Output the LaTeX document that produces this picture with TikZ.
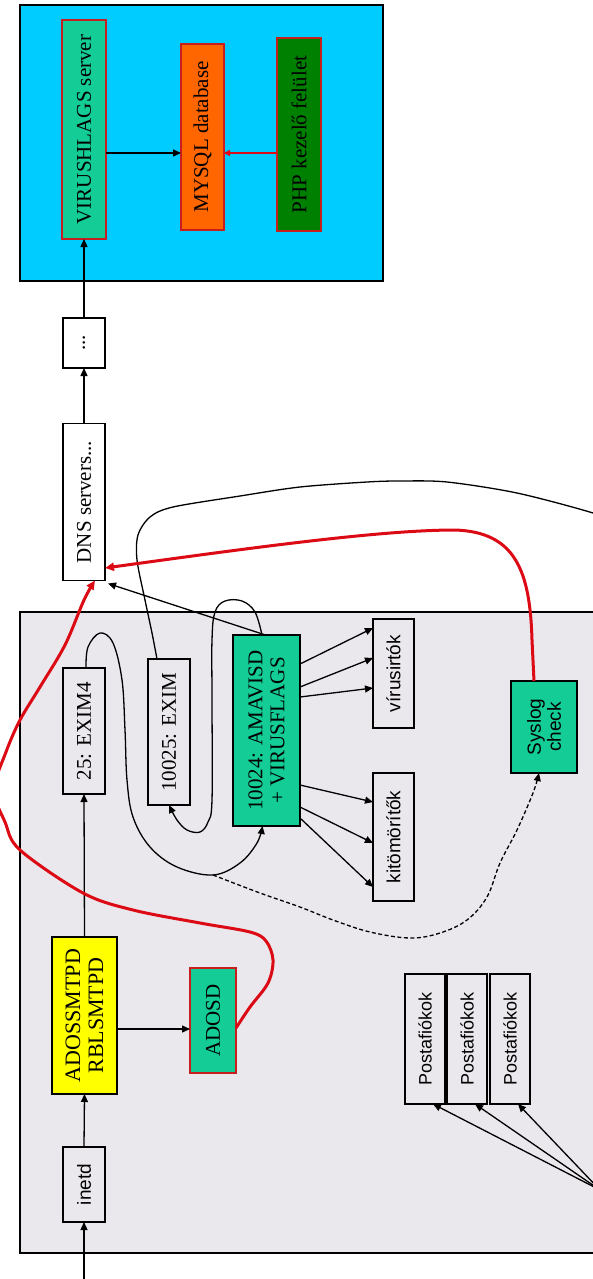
\documentclass[tikz,border=0pt]{standalone}
\usepackage{fontspec}
\setmainfont{Liberation Serif}
\setsansfont{Liberation Sans}
\usetikzlibrary{arrows.meta}
\definecolor{cBlue}{RGB}{0,204,255}
\definecolor{cGrey}{RGB}{234,232,236}
\definecolor{cTeal}{RGB}{20,204,150}
\definecolor{cOrange}{RGB}{255,102,0}
\definecolor{cDGreen}{RGB}{0,128,0}
\definecolor{cYellow}{RGB}{255,255,0}
\definecolor{cRed}{RGB}{220,10,20}
\definecolor{cRedB}{RGB}{200,30,30}
\begin{document}
\begin{tikzpicture}[x=1pt,y=-1pt,
  box/.style={draw=black, line width=1.3pt, fill=cGrey, inner sep=0pt, outer sep=0pt},
  rbox/.style={box, draw=cRedB, line width=2.8pt},
  sr/.style={rotate=90, align=center, font=\fontsize{21}{22}\selectfont},
  ss/.style={rotate=90, align=center, font=\sffamily\fontsize{19}{20}\selectfont},
  tip/.style={-{Triangle[length=8pt,width=7pt]}},
  arr/.style={tip, line width=1.3pt, black},
  dasharr/.style={arr, dash pattern=on 4pt off 2.5pt},
  plain/.style={line width=1.3pt, black},
  redline/.style={line width=3pt, cRed, -{Triangle[length=9pt,width=8pt]}},
]
\useasboundingbox (0,0) rectangle (593,1279);
\fill[white] (0,0) rectangle (593,1279);
\draw[fill=cBlue, line width=1.3pt] (20,5) rectangle (383,281);
\draw[fill=cGrey, line width=1.3pt] (20,612) rectangle (620,1253);

% blue area
\node[rbox, fill=cTeal, minimum width=44pt, minimum height=219pt, label={[sr]center:VIRUSHLAGS server}] (vflags) at (84,129.5) {};
\node[rbox, fill=cOrange, minimum width=43pt, minimum height=186pt, label={[sr]center:MYSQL database}] (mysql) at (202.5,137) {};
\node[rbox, fill=cDGreen, minimum width=44pt, minimum height=193pt, label={[sr]center:PHP kezelő felület}] (php) at (299,134.5) {};

% outside
\node[box, fill=white, minimum width=42pt, minimum height=50pt, label={[sr]center:...}] (dots) at (84,343) {};
\node[box, fill=white, minimum width=42pt, minimum height=157pt, label={[sr]center:DNS servers...}] (dns) at (84,502) {};

% grey area
\node[box, minimum width=42pt, minimum height=126pt, label={[sr]center:25: EXIM4}] (exim4) at (84,731) {};
\node[box, fill=cYellow, minimum width=65pt, minimum height=157pt, label={[sr, font=\fontsize{22}{23}\selectfont]center:{ADOSSMTPD\\RBLSMTPD}}] (yellow) at (84.5,1015.5) {};
\node[box, minimum width=42pt, minimum height=75pt, label={[ss]center:inetd}] (inetd) at (84,1184.5) {};
\node[rbox, fill=cTeal, minimum width=46pt, minimum height=105pt, label={[sr]center:ADOSD}] (adosd) at (213,1020.5) {};
\node[box, minimum width=42pt, minimum height=146pt, label={[sr]center:10025: EXIM}] (exim10025) at (169,732) {};
\node[box, fill=cTeal, minimum width=67pt, minimum height=191pt, label={[sr]center:{10024: AMAVISD\\+ VIRUSFLAGS}}] (amavis) at (266.5,730.5) {};
\node[box, minimum width=41pt, minimum height=109pt, label={[ss]center:vírusirtók}] (virus) at (393.5,673.5) {};
\node[box, minimum width=41pt, minimum height=128pt, label={[ss]center:kitömörítők}] (kito) at (393.5,837) {};
\node[box, fill=cTeal, minimum width=66pt, minimum height=92pt, label={[ss]center:{Syslog\\check}}] (syslog) at (544,727) {};
\node[box, minimum width=40pt, minimum height=130pt, label={[ss, font=\sffamily\fontsize{18}{19}\selectfont]center:Postafiókok}] (posta1) at (425,1039) {};
\node[box, minimum width=40pt, minimum height=130pt, label={[ss, font=\sffamily\fontsize{18}{19}\selectfont]center:Postafiókok}] (posta2) at (467,1039) {};
\node[box, minimum width=40pt, minimum height=130pt, label={[ss, font=\sffamily\fontsize{18}{19}\selectfont]center:Postafiókok}] (posta3) at (510,1039) {};

% straight connectors
\coordinate (src) at (84,1290);
\draw[arr] (src) -- (inetd.south);
\draw[arr] (inetd.north) -- (yellow.south);
\draw[arr] (yellow.north) -- (exim4.south);
\draw[arr] ([yshift=-13.5pt]yellow.east) -- ([yshift=-8.5pt]adosd.west);
\draw[arr] (dns.north) -- (dots.south);
\draw[arr] (dots.north) -- (vflags.south);
\draw[arr] ([yshift=-23.5pt]vflags.east) -- ([yshift=-16pt]mysql.west);
\draw[line width=1.5pt, cRed, -{Triangle[length=6pt,width=6pt]}] ([yshift=-18.5pt]php.west) -- ([yshift=-16pt]mysql.east);
\draw[arr] ([xshift=-1pt]amavis.north) -- ([shift={(3pt,-3pt)}]dns.south east);

\draw[arr] ([yshift=66.5pt]amavis.east) -- ([yshift=45.5pt]virus.west);
\draw[arr] ([yshift=43.5pt]amavis.east) -- ([yshift=15.5pt]virus.west);
\draw[arr] ([yshift=33.5pt]amavis.east) -- ([yshift=-14.5pt]virus.west);
\draw[arr] ([yshift=-54.5pt]amavis.east) -- ([yshift=35pt]kito.west);
\draw[arr] ([yshift=-76.5pt]amavis.east) -- ([yshift=-6pt]kito.west);
\draw[arr] ([yshift=-87.5pt]amavis.east) -- ([yshift=-50pt]kito.west);

\coordinate (pin) at (600,1190);
\draw[arr] (pin) -- ([xshift=8pt]posta1.south);
\draw[arr] (pin) -- ([xshift=8pt]posta2.south);
\draw[arr] (pin) -- ([xshift=8pt]posta3.south);

% curved connectors
\coordinate (br) at (213,875);
\draw[arr] plot[smooth, tension=0.6] coordinates {([xshift=2pt]exim4.north) (88,647) (100,633) (113,643) (122,680) (125,730) (127,780) (133,817) (150,847) (177,867) (br) (240,863) (257,843) ([xshift=-4pt]amavis.south)};
\draw[dasharr] plot[smooth, tension=0.6] coordinates {(br) (260,893) (300,907) (333,920) (370,932) (410,938) (440,933) (467,920) (487,897) (500,863) (517,830) (533,793) ([xshift=-5pt]syslog.south)};
\draw[plain] plot[smooth, tension=0.5] coordinates {([xshift=-12pt]exim10025.north) (152,633) (145,600) (137,560) (138,535) (150,517) (173,507) (240,496) (300,487) (367,482) (400,481) (447,482) (517,493) (593,513) (620,525)};
\draw[arr] plot[smooth, tension=0.6] coordinates {([xshift=-4.5pt]amavis.north) (255,612) (242,601) (225,601) (215,612) (212,640) (212,700) (212,800) (208,822) (200,832) (187,830) (177,820) (exim10025.south)};

% red connectors
\draw[redline] ([xshift=-10pt]syslog.north) -- (532,640) .. controls (530,570) and (515,532) .. (455,530) .. controls (380,530) and (250,548) .. ([yshift=-66pt]dns.east);
\draw[redline] plot[smooth, tension=0.55] coordinates {([yshift=-7.5pt]adosd.east) (250,1007) (268,983) (273,960) (266,941) (250,932) (200,923) (133,910) (83,893) (20,850) (5,822) (-6,790) (6,752) (20,720) (40,687) (65,645) (84,600) ([xshift=11pt]dns.south)};
\end{tikzpicture}
\end{document}
